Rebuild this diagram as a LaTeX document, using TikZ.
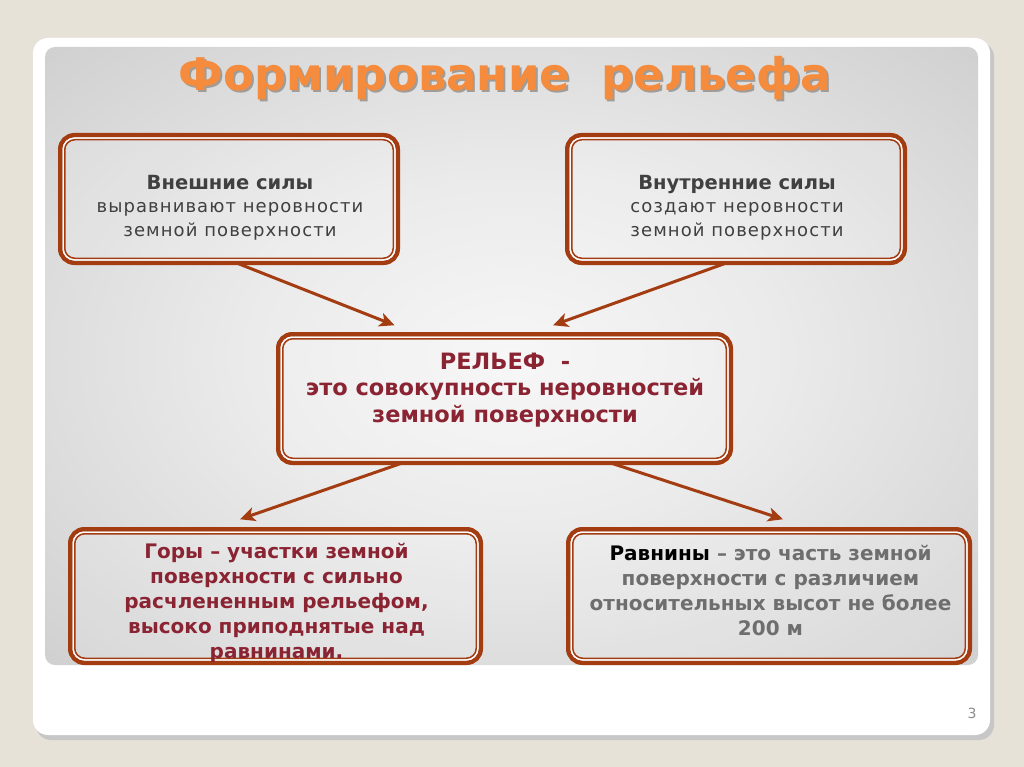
\documentclass[tikz,border=0pt]{standalone}
\usepackage{fontspec}
\setmainfont{DejaVu Sans}
\newfontfamily\widefont[LetterSpace=6.0]{DejaVu Sans}
\usetikzlibrary{arrows.meta}

\definecolor{slidebg}{HTML}{E7E2D8}
\definecolor{rust}{HTML}{A43C12}
\definecolor{titleorange}{HTML}{F58B3C}
\definecolor{titleshadow}{HTML}{A09C98}
\definecolor{winered}{HTML}{8A2332}
\definecolor{darktext}{HTML}{404040}
\definecolor{greytext}{HTML}{6E6E6E}
\definecolor{pnlA}{HTML}{F6F6F6}
\definecolor{pnlB}{HTML}{EBEBEB}
\definecolor{pnlC}{HTML}{C4C4C4}
\definecolor{pnlD}{HTML}{949494}

\pgfdeclareradialshading{panelshade}{\pgfpoint{0bp}{0bp}}{color(0bp)=(pnlA); color(14bp)=(pnlB); color(45bp)=(pnlC); color(71bp)=(pnlD)}

% text with a soft drop shadow
\newcommand{\shadowtext}[1]{\makebox[0pt][l]{\hspace{2pt}\raisebox{-2.5pt}{\textcolor{titleshadow}{#1}}}\textcolor{titleorange}{#1}}

\begin{document}
\begin{tikzpicture}[x=1pt,y=-1pt,
    box/.style={draw=rust, line width=4.5pt, outer sep=0pt, rounded corners=14pt, fill=white, fill opacity=0.15, inner sep=0pt},
    flow/.style={draw=rust, line width=3pt, -{Stealth[length=15pt,width=14pt,inset=4pt]}}]

    % slide
    \fill[slidebg] (0,0) rectangle (1024,767);
    \useasboundingbox (0,0) rectangle (1024,767);
    \fill[black!22, rounded corners=15pt] (36,42) rectangle (994,740);
    \fill[white, rounded corners=15pt] (33,38) rectangle (990,735);
    \shade[shading=panelshade, rounded corners=10pt] (45,47) rectangle (978,665);

    % title
    \node[font=\bfseries\fontsize{45}{45}\selectfont] (title) at (505,79) {\shadowtext{Формирование~~рельефа}};

    % boxes
    \node[box, minimum width=337.5pt, minimum height=127.5pt] (ext) at (229,199) {};
    \node[box, minimum width=337.5pt, minimum height=127.5pt] (int) at (736,199) {};
    \node[box, minimum width=452.5pt, minimum height=128.5pt] (relief) at (504.5,398.5) {};
    \node[box, minimum width=410.5pt, minimum height=133.5pt] (mount) at (275.5,596) {};
    \node[box, minimum width=401.5pt, minimum height=133.5pt] (plain) at (769,596) {};

    % inner lines of the boxes
    \foreach \b in {ext,int,relief,mount,plain} {
        \draw[white, line width=1.5pt, rounded corners=11pt] ([shift={(3pt,-3pt)}]\b.north west) rectangle ([shift={(-3pt,3pt)}]\b.south east);
        \draw[rust, line width=1.5pt, rounded corners=10pt] ([shift={(4.5pt,-4.5pt)}]\b.north west) rectangle ([shift={(-4.5pt,4.5pt)}]\b.south east);
    }

    % texts
    \node[align=center, text=darktext, font=\fontsize{18}{23.5}\selectfont] (ext-t) at (230,207.5)
        {{\bfseries\fontsize{19.5}{23.5}\selectfont Внешние силы}\\{\widefont выравнивают неровности}\\{\widefont земной поверхности}};
    \node[align=center, text=darktext, font=\fontsize{18}{23.5}\selectfont] (int-t) at (737,207.5)
        {{\bfseries\fontsize{19.5}{23.5}\selectfont Внутренние силы}\\{\widefont создают неровности}\\{\widefont земной поверхности}};
    \node[align=center, text=winered, font=\bfseries\fontsize{22.5}{26.5}\selectfont] (relief-t) at (505,390)
        {РЕЛЬЕФ~~-\\это совокупность неровностей\\земной поверхности};
    \node[align=center, text=winered, font=\bfseries\fontsize{20}{25}\selectfont] (mount-t) at (276.5,602.5)
        {Горы – участки земной\\поверхности с сильно\\расчлененным рельефом,\\высоко приподнятые над\\равнинами.};
    \node[align=center, text=greytext, font=\bfseries\fontsize{20}{25}\selectfont] (plain-t) at (770.5,590)
        {\textcolor{black}{Равнины} – это часть земной\\поверхности с различием\\относительных высот не более\\200 м};

    % arrows
    \path[flow] ([xshift=7pt]ext.south) -- ([xshift=-110pt,yshift=9pt]relief.north);
    \path[flow] ([xshift=-9pt]int.south) -- ([xshift=48.5pt,yshift=9pt]relief.north);
    \path[flow] ([xshift=-101.5pt]relief.south) -- ([xshift=-35.5pt,yshift=10pt]mount.north);
    \path[flow] ([xshift=105.5pt]relief.south) -- ([xshift=14pt,yshift=10pt]plain.north);

    % page number
    \node[text=black!45, font=\fontsize{14}{14}\selectfont] (page) at (972,713) {3};
\end{tikzpicture}
\end{document}
